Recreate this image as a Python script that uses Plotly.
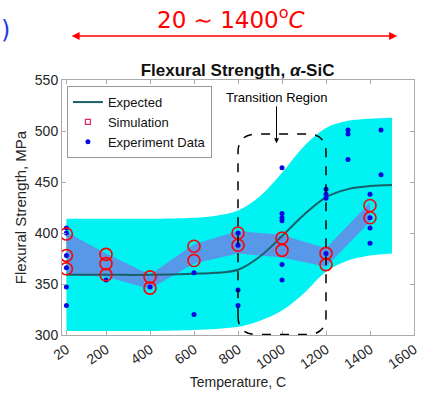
import plotly.graph_objects as go

# Expected strength curve and its envelope (MPa) versus temperature (C)
band_t = [20, 200, 400, 600, 700, 800, 900, 1000, 1100, 1200, 1300, 1400, 1500]
band_upper = [414, 414, 414, 415, 417, 422, 436, 459, 485, 503, 510, 512, 513]
band_lower = [304, 304, 304, 305, 306, 308, 314, 324, 341, 362, 373, 378, 380]
expected = [359, 359, 359, 360, 361, 364, 377, 397, 418, 435, 443, 446, 447]

# Simulation spread
sim_band_t = [20, 200, 400, 600, 800, 1000, 1200, 1400]
sim_band_high = [401, 380, 359, 389, 402, 398, 385, 430]
sim_band_low = [359, 357, 345, 370, 380, 376, 367, 411]

# Simulation results
sim_t = [20, 20, 20, 200, 200, 200, 400, 400, 600, 600, 800, 800,
         1000, 1000, 1200, 1200, 1400, 1400]
sim_y = [399, 378, 365, 379, 370, 359, 357, 346, 387, 373, 400, 388,
         395, 383, 380, 369, 427, 415]

# Experimental measurements
exp_t = [20, 20, 20, 20, 20, 20, 200, 400, 600, 600, 800, 800, 800, 800,
         1000, 1000, 1000, 1000, 1000, 1000, 1200, 1200, 1200, 1200,
         1300, 1300, 1300, 1400, 1400, 1400, 1400, 1450, 1450]
exp_y = [405, 400, 378, 366, 347, 329, 354, 347, 361, 320, 400, 388, 344, 329,
         464, 419, 415, 412, 369, 354, 443, 438, 434, 380,
         501, 497, 472, 438, 415, 405, 390, 501, 457]

x_ticks = [20, 200, 400, 600, 800, 1000, 1200, 1400, 1600]

CYAN = "rgb(0,242,242)"
SIM_FILL = "rgb(88,152,232)"
LINE = "rgb(25,95,105)"
FONT = "Liberation Sans"

fig = go.Figure()

fig.add_trace(go.Scatter(x=band_t, y=band_lower, mode="lines", line=dict(width=0, shape="spline"),
                         showlegend=False, hoverinfo="skip"))
fig.add_trace(go.Scatter(x=band_t, y=band_upper, mode="lines", line=dict(width=0, shape="spline"),
                         fill="tonexty", fillcolor=CYAN, showlegend=False, hoverinfo="skip"))
fig.add_trace(go.Scatter(x=sim_band_t, y=sim_band_low, mode="lines", line=dict(width=0),
                         showlegend=False, hoverinfo="skip"))
fig.add_trace(go.Scatter(x=sim_band_t, y=sim_band_high, mode="lines", line=dict(width=0),
                         fill="tonexty", fillcolor=SIM_FILL, showlegend=False, hoverinfo="skip"))
fig.add_trace(go.Scatter(x=band_t, y=expected, mode="lines", line=dict(color=LINE, width=2, shape="spline"),
                         name="Expected"))
fig.add_trace(go.Scatter(x=exp_t, y=exp_y, mode="markers",
                         marker=dict(color="rgb(10,10,225)", size=5), showlegend=False))
fig.add_trace(go.Scatter(x=sim_t, y=sim_y, mode="markers",
                         marker=dict(symbol="circle-open", color="red", size=12, line=dict(width=1.6)),
                         showlegend=False))
# legend keys
fig.add_trace(go.Scatter(x=[None], y=[None], mode="markers", name="Simulation",
                         marker=dict(symbol="square-open", color="rgb(220,40,90)", size=5, line=dict(width=1.2))))
fig.add_trace(go.Scatter(x=[None], y=[None], mode="markers", name="Experiment Data",
                         marker=dict(color="rgb(10,10,225)", size=5)))

# Transition region: dashed rounded box
x0, x1, y0, y1 = 800, 1200, 300.5, 497
rx, ry = 85, 18
path = (f"M {x0},{y0 + ry} L {x0},{y1 - ry} Q {x0},{y1} {x0 + rx},{y1} "
        f"L {x1 - rx},{y1} Q {x1},{y1} {x1},{y1 - ry} L {x1},{y0 + ry} "
        f"Q {x1},{y0} {x1 - rx},{y0} L {x0 + rx},{y0} Q {x0},{y0} {x0},{y0 + ry}")
fig.add_shape(type="path", path=path, xref="x", yref="y",
              line=dict(color="black", width=1.5, dash="dash"))

fig.add_annotation(x=975, y=488, xref="x", yref="y", ax=975, ay=533, axref="x", ayref="y",
                   text="Transition Region", showarrow=True, arrowhead=2, arrowsize=1,
                   arrowwidth=1, arrowcolor="black", font=dict(family=FONT, size=13, color="black"))

# Temperature range marker above the chart (pixel positions relative to a 255 px tall plot)
fig.add_annotation(x=0.952, y=(335 - 36) / 255, xref="paper", yref="paper", ax=-327, ay=0,
                   axref="pixel", ayref="pixel", text="", showarrow=True,
                   arrowhead=2, arrowside="end+start", arrowsize=1, arrowwidth=1.6, arrowcolor="red")
fig.add_annotation(x=0.48, y=(335 - 18) / 255, xref="paper", yref="paper", showarrow=False,
                   xanchor="center", yanchor="middle",
                   text="20 ∼ 1400<sup>o</sup><i>C</i>",
                   font=dict(family="DejaVu Sans", size=23, color="red"))
fig.add_annotation(x=-0.18, y=(335 - 30) / 255, xref="paper", yref="paper", showarrow=False,
                   text=")", xanchor="left", yanchor="middle",
                   font=dict(family="DejaVu Sans", size=24, color="rgb(30,60,230)"))

fig.update_layout(
    width=428, height=395,
    margin=dict(l=62, r=14, t=80, b=60),
    paper_bgcolor="white", plot_bgcolor="white",
    font=dict(family=FONT, size=13, color="#262626"),
    title=dict(text="<b>Flexural Strength, <i>α</i>-SiC</b>", x=0.555, xref="container",
               y=1 - 70 / 395, yref="container", xanchor="center", yanchor="middle",
               font=dict(family=FONT, size=17, color="#111111")),
    legend=dict(x=0.014, y=0.976, xanchor="left", yanchor="top", bgcolor="white",
                bordercolor="#999999", borderwidth=1, font=dict(family=FONT, size=13, color="#111111"),
                tracegroupgap=0, itemwidth=30, traceorder="normal"),
    showlegend=True,
)
fig.update_xaxes(range=[0, 1600], tickvals=x_ticks, tickangle=-35, showgrid=False, zeroline=False,
                 showline=True, linecolor="#aaaaaa", mirror="ticks", ticks="inside", ticklen=4,
                 tickcolor="#aaaaaa", automargin=False,
                 title=dict(text="Temperature, C", font=dict(size=14), standoff=6),
                 tickfont=dict(size=14))
fig.update_yaxes(range=[300, 550], dtick=50, showgrid=False, zeroline=False,
                 showline=True, linecolor="#aaaaaa", mirror="ticks", ticks="inside", ticklen=4,
                 tickcolor="#aaaaaa", automargin=False,
                 title=dict(text="Flexural Strength, MPa", font=dict(size=15), standoff=4),
                 tickfont=dict(size=14))

fig.write_html("out.html")
